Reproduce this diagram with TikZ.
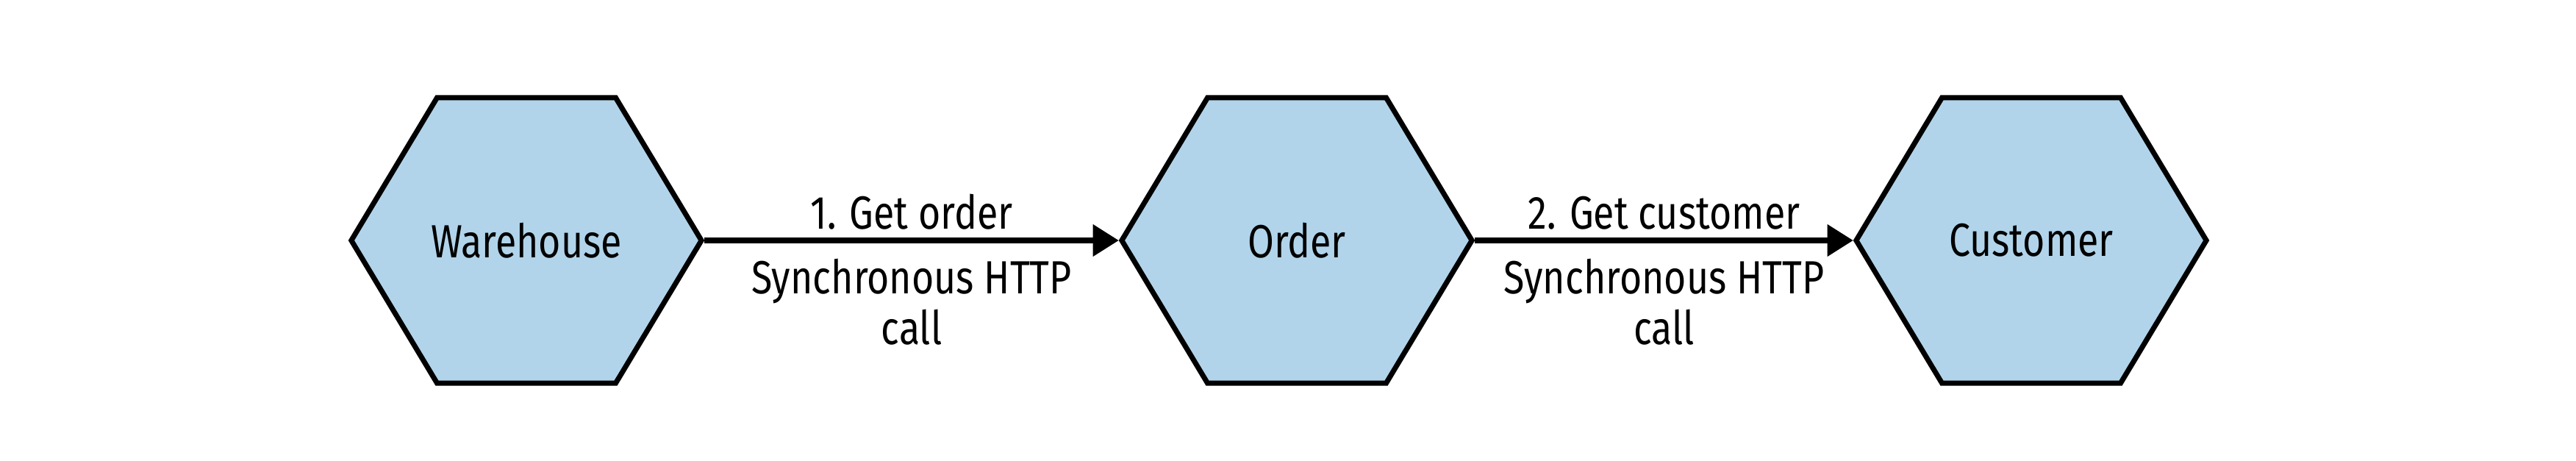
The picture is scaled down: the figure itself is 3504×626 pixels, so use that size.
\documentclass[tikz,border=0pt]{standalone}
\usepackage{fontspec}
\setmainfont{Fira Sans}[FakeStretch=0.82]
\usetikzlibrary{shapes.symbols, arrows.meta, positioning}
\definecolor{hexblue}{HTML}{B1D4EA}

\begin{document}
\begin{tikzpicture}[x=0.01cm, y=0.01cm,
  hexbox/.style={signal, signal to=east and west, signal pointer angle=118,
    minimum width=4.76cm, minimum height=3.88cm,
    draw=black, line width=2pt, fill=hexblue, inner ysep=0pt, inner xsep=-0.2cm,
    font=\fontsize{18}{19.5}\selectfont},
  call/.style={-{Triangle[length=10pt, width=12pt]}, line width=2pt},
  lbl/.style={font=\fontsize{18}{19.5}\selectfont, align=center}]
\useasboundingbox (0,0) rectangle (3504,626);

% services
\node[hexbox] (warehouse) at (716,299) {Warehouse};
\node[hexbox] (order) at (1764,299) {Order};
\node[hexbox] (customer) at (2763,299) {Customer};

% synchronous calls
\draw[call] (warehouse.east) -- node[lbl, above] {1. Get order}
  node[lbl, below=0.1cm] {Synchronous HTTP\\call} (order.west);
\draw[call] (order.east) -- node[lbl, above] {2. Get customer}
  node[lbl, below=0.1cm] {Synchronous HTTP\\call} (customer.west);
\end{tikzpicture}
\end{document}
